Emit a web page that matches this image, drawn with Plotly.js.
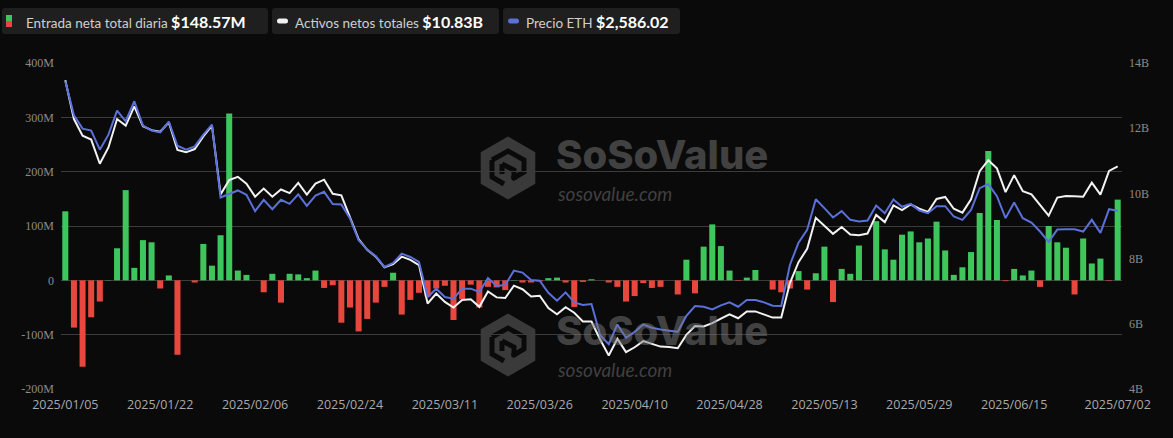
<!DOCTYPE html>
<html>
<head>
<meta charset="utf-8">
<script src="https://cdn.plot.ly/plotly-3.0.1.min.js"></script>
<style>
html,body{margin:0;padding:0;background:#0a0a0a;}
#chart{width:1173px;height:438px;}
</style>
</head>
<body>
<div id="chart"></div>
<script>
// ---------- DATA ----------
const dates = [
'2025/01/05','2025/01/06','2025/01/07','2025/01/09','2025/01/12','2025/01/13','2025/01/14','2025/01/15','2025/01/16','2025/01/20',
'2025/01/21','2025/01/22','2025/01/23','2025/01/26','2025/01/27','2025/01/28','2025/01/29','2025/01/30','2025/02/02','2025/02/03',
'2025/02/04','2025/02/05','2025/02/06','2025/02/09','2025/02/10','2025/02/11','2025/02/12','2025/02/13','2025/02/17','2025/02/18',
'2025/02/19','2025/02/20','2025/02/23','2025/02/24','2025/02/25','2025/02/26','2025/02/27','2025/03/02','2025/03/03','2025/03/04',
'2025/03/05','2025/03/06','2025/03/09','2025/03/10','2025/03/11','2025/03/12','2025/03/13','2025/03/16','2025/03/17','2025/03/18',
'2025/03/19','2025/03/20','2025/03/23','2025/03/24','2025/03/25','2025/03/26','2025/03/27','2025/03/30','2025/03/31','2025/04/01',
'2025/04/02','2025/04/03','2025/04/06','2025/04/07','2025/04/08','2025/04/09','2025/04/10','2025/04/13','2025/04/14','2025/04/15',
'2025/04/16','2025/04/20','2025/04/21','2025/04/22','2025/04/23','2025/04/24','2025/04/27','2025/04/28','2025/04/29','2025/04/30',
'2025/05/01','2025/05/04','2025/05/05','2025/05/06','2025/05/07','2025/05/08','2025/05/11','2025/05/12','2025/05/13','2025/05/14',
'2025/05/15','2025/05/18','2025/05/19','2025/05/20','2025/05/21','2025/05/22','2025/05/26','2025/05/27','2025/05/28','2025/05/29',
'2025/06/01','2025/06/02','2025/06/03','2025/06/04','2025/06/05','2025/06/08','2025/06/09','2025/06/10','2025/06/11','2025/06/12',
'2025/06/15','2025/06/16','2025/06/17','2025/06/19','2025/06/22','2025/06/23','2025/06/24','2025/06/25','2025/06/26','2025/06/29',
'2025/06/30','2025/07/01','2025/07/02'];

// Daily total net inflow, millions USD
const netInflowM = [
127,-87,-159,-68,-39,0.5,59,166,23,74,
70,-15,9,-137,0,-4,67,27,83,307,
18,10,0,-22,12,-41,12,11,4,18,
-14,-9,-78,-50,-94,-71,-41,-12,14,-63,
-36,-23,-30,-15,-10,-73,-35,-8,-50,-12,
-13,-18,0.5,-4,-4,-2,4,5,-4,-49,
-3,2,0,-4,-12,-39,-29,-5,-14,-12,
0,-26,38,-24,62,103,63,18,-1,5,
19,0,-17,-22,-15,17,-17,13,62,-40,
21,12,64,0.5,109,57,38,84,90,70,
77,108,55,10,24,52,124,238,111,-1.5,
21,9,18,-12,100,70,60,-26,77,31,
40,-1,148.57];

// Total net assets, billions USD
const netAssetsB = [
13.47,12.28,11.77,11.65,10.91,11.41,12.28,12.08,12.67,12.06,
11.94,11.89,12.18,11.33,11.26,11.36,11.75,12.08,9.97,10.41,
10.51,10.30,9.90,10.15,9.90,10.12,10.01,10.32,9.96,10.30,
10.42,9.99,9.94,9.29,8.60,8.27,8.06,7.73,7.83,8.06,
7.96,7.80,6.62,6.93,6.67,6.50,6.73,6.75,6.52,6.99,
6.81,6.79,7.17,7.06,6.84,6.86,6.48,6.29,6.51,6.34,
6.07,6.07,5.52,5.03,5.54,5.13,5.28,5.47,5.38,5.30,
5.29,5.25,5.66,5.93,5.92,6.02,6.16,6.29,6.17,6.38,
6.38,6.29,6.19,6.19,7.25,7.89,8.30,9.25,9.00,8.76,
8.97,8.74,8.72,8.77,9.34,9.12,9.63,9.49,9.66,9.53,
9.43,9.83,9.89,9.53,9.41,9.82,10.68,11.02,10.77,10.04,
10.56,10.07,9.97,9.65,9.32,9.87,9.92,9.91,9.90,10.33,
9.96,10.69,10.83];

// ETH price, USD
const ethPrice = [
3640,3363,3254,3238,3083,3205,3401,3314,3477,3278,
3238,3224,3311,3115,3083,3110,3205,3287,2694,2721,
2751,2716,2583,2675,2599,2675,2642,2719,2626,2710,
2740,2640,2637,2523,2346,2270,2216,2129,2161,2237,
2210,2170,1884,1952,1884,1871,1952,1952,1925,2039,
1974,1982,2099,2083,2023,2017,1919,1854,1922,1841,
1819,1827,1574,1501,1661,1553,1601,1661,1634,1620,
1612,1601,1732,1811,1805,1784,1816,1841,1805,1860,
1860,1841,1813,1811,2145,2327,2430,2680,2607,2531,
2583,2512,2498,2507,2629,2566,2678,2618,2642,2588,
2566,2623,2623,2539,2512,2593,2770,2803,2705,2526,
2653,2526,2490,2417,2333,2433,2436,2436,2417,2512,
2406,2599,2586.02];

const xTickLabels = ['2025/01/05','2025/01/22','2025/02/06','2025/02/24','2025/03/11','2025/03/26',
                     '2025/04/10','2025/04/28','2025/05/13','2025/05/29','2025/06/15','2025/07/02'];
const leftTickVals = [-200,-100,0,100,200,300,400];
const leftTickText = ['-200M','-100M','0','100M','200M','300M','400M'];
const rightTickVals = [4,6,8,10,12,14];
const rightTickText = ['4B','6B','8B','10B','12B','14B'];
const seriesNames = ['Entrada neta total diaria','Activos netos totales','Precio ETH'];

// ---------- STYLE ----------
const GREEN = '#3ec65c', RED = '#e8473e', WHITE = '#f2f2f2', BLUE = '#5b70d8';
const BG = '#0a0a0a';
const L = 61, R = 1122, T = 63, B = 389;
const px = x => (x - L) / (R - L);
const py = y => (B - y) / (B - T);

function rrect(x0, y0, x1, y1, r) {
  const rx = r / (R - L), ry = r / (B - T);
  const X0 = px(x0), X1 = px(x1), Y0 = py(y0), Y1 = py(y1);
  return `M${X0+rx},${Y0} L${X1-rx},${Y0} Q${X1},${Y0} ${X1},${Y0-ry} L${X1},${Y1+ry} Q${X1},${Y1} ${X1-rx},${Y1} L${X0+rx},${Y1} Q${X0},${Y1} ${X0},${Y1+ry} L${X0},${Y0-ry} Q${X0},${Y0} ${X0+rx},${Y0} Z`;
}
function hexPath(cx, cy, r) {
  let d = '';
  for (let k = 0; k < 6; k++) {
    const a = Math.PI / 180 * (90 + 60 * k);
    const x = cx + r * Math.cos(a), y = cy - r * Math.sin(a);
    d += (k === 0 ? 'M' : 'L') + px(x) + ',' + py(y) + ' ';
  }
  return d + 'Z';
}
function linePath(pts) {
  return pts.map((p, k) => (k === 0 ? 'M' : 'L') + px(p[0]) + ',' + py(p[1])).join(' ');
}

const traces = [
  {
    type: 'bar', x: dates, y: netInflowM, name: seriesNames[0],
    marker: { color: netInflowM.map(v => v >= 0 ? GREEN : RED) },
    yaxis: 'y', hoverinfo: 'skip'
  },
  {
    type: 'scatter', mode: 'lines', x: dates, y: netAssetsB, name: seriesNames[1],
    line: { color: WHITE, width: 2 }, yaxis: 'y2', hoverinfo: 'skip'
  },
  {
    type: 'scatter', mode: 'lines', x: dates, y: ethPrice, name: seriesNames[2],
    line: { color: BLUE, width: 2 }, yaxis: 'y3', hoverinfo: 'skip'
  }
];

// watermark logos
const shapes = [];
function logo(cx, cy) {
  shapes.push({ type: 'path', xref: 'paper', yref: 'paper', layer: 'below',
    path: hexPath(cx, cy, 31.5), fillcolor: '#3a3a3a', line: { width: 0 } });
  shapes.push({ type: 'path', xref: 'paper', yref: 'paper', layer: 'below',
    path: linePath([[cx - 16, cy - 8], [cx, cy - 17], [cx + 16, cy - 8], [cx + 16, cy + 4], [cx + 4, cy + 11]]),
    line: { color: BG, width: 5 } });
  shapes.push({ type: 'path', xref: 'paper', yref: 'paper', layer: 'below',
    path: linePath([[cx - 16, cy - 8], [cx - 16, cy + 9], [cx - 4, cy + 16]]),
    line: { color: BG, width: 5 } });
  shapes.push({ type: 'path', xref: 'paper', yref: 'paper', layer: 'below',
    path: linePath([[cx - 6, cy - 4], [cx + 6, cy + 2], [cx + 6, cy + 12]]),
    line: { color: BG, width: 5 } });
  shapes.push({ type: 'path', xref: 'paper', yref: 'paper', layer: 'below',
    path: linePath([[cx - 6, cy - 4], [cx - 6, cy + 6]]),
    line: { color: BG, width: 5 } });
}
logo(508, 168);
logo(508, 345);

// legend boxes
const boxes = [[2, 268], [272, 499], [503, 680]];
boxes.forEach(b => shapes.push({ type: 'path', xref: 'paper', yref: 'paper', layer: 'above',
  path: rrect(b[0], 8, b[1], 34, 3), fillcolor: '#1f1f1f', line: { width: 0 } }));
// legend icons
shapes.push({ type: 'rect', xref: 'paper', yref: 'paper', x0: px(6), x1: px(12), y0: py(15), y1: py(21), fillcolor: GREEN, line: { width: 0 } });
shapes.push({ type: 'rect', xref: 'paper', yref: 'paper', x0: px(6), x1: px(12), y0: py(21), y1: py(27), fillcolor: RED, line: { width: 0 } });
shapes.push({ type: 'path', xref: 'paper', yref: 'paper', path: rrect(277, 18.5, 288, 23.5, 2.5), fillcolor: WHITE, line: { width: 0 } });
shapes.push({ type: 'path', xref: 'paper', yref: 'paper', path: rrect(508, 18.5, 519, 23.5, 2.5), fillcolor: BLUE, line: { width: 0 } });

const last = a => a[a.length - 1];
const fmt = (v, d) => v.toLocaleString('en-US', { minimumFractionDigits: d, maximumFractionDigits: d });
const legendValues = [
  '$' + fmt(last(netInflowM), 2) + 'M',
  '$' + fmt(last(netAssetsB), 2) + 'B',
  '$' + fmt(last(ethPrice), 2)
];
const legendX = [24, 293, 524];
const annotations = legendX.map((x, k) => ({
  xref: 'paper', yref: 'paper', x: px(x), y: py(21.5), xanchor: 'left', yanchor: 'middle',
  showarrow: false,
  text: seriesNames[k] + ' <span style="font-size:16px;font-weight:bold;fill:#ffffff">' + legendValues[k] + '</span>',
  font: { family: 'Lato, "Open Sans", sans-serif', size: 13.5, color: '#cfcfcf' }
}));

// watermark text (big word sits above the split line, small url below it)
function wmText(split) {
  annotations.push({ xref: 'paper', yref: 'paper', x: px(555), y: py(split), xanchor: 'left', yanchor: 'bottom',
    showarrow: false, text: 'SoSoValue', borderpad: 0,
    font: { family: 'Inter, "Open Sans", sans-serif', size: 40, weight: 800, color: 'rgba(120,120,120,0.5)' } });
  annotations.push({ xref: 'paper', yref: 'paper', x: px(556), y: py(split + 1), xanchor: 'left', yanchor: 'top',
    showarrow: false, text: '<i>sosovalue.com</i>', borderpad: 0,
    font: { family: 'Lato, "Open Sans", sans-serif', size: 19, color: 'rgba(120,120,120,0.5)' } });
}
wmText(180);
wmText(356);

const layout = {
  width: 1173, height: 438,
  paper_bgcolor: BG, plot_bgcolor: 'rgba(0,0,0,0)',
  margin: { l: L, r: 1173 - R, t: T, b: 438 - B, pad: 0 },
  showlegend: false,
  bargap: 0.3,
  xaxis: {
    type: 'category', range: [-0.5, dates.length - 0.5],
    tickmode: 'array', tickvals: xTickLabels, ticktext: xTickLabels,
    showgrid: false, zeroline: false, showline: false, ticks: '',
    tickfont: { family: '"Open Sans", sans-serif', size: 12.5, color: '#a9a9a9' },
    ticklabelstandoff: 6, fixedrange: true
  },
  yaxis: {
    range: [-200, 400], tickmode: 'array', tickvals: leftTickVals, ticktext: leftTickText,
    showgrid: true, gridcolor: '#3c3c3c', gridwidth: 1, zeroline: false, showline: false, ticks: '',
    tickfont: { family: '"Liberation Serif", serif', size: 12, color: '#8c8c8c' },
    ticklabelstandoff: 6, fixedrange: true
  },
  yaxis2: {
    overlaying: 'y', side: 'right', range: [4, 14], tickmode: 'array', tickvals: rightTickVals, ticktext: rightTickText,
    showgrid: false, zeroline: false, showline: false, ticks: '',
    tickfont: { family: '"Liberation Serif", serif', size: 12, color: '#8c8c8c' },
    ticklabelstandoff: 6, fixedrange: true
  },
  yaxis3: {
    overlaying: 'y', side: 'right', range: [1136, 3788], visible: false, fixedrange: true
  },
  shapes: shapes,
  annotations: annotations
};

Plotly.newPlot('chart', traces, layout, { displayModeBar: false, staticPlot: true });
</script>
</body>
</html>
